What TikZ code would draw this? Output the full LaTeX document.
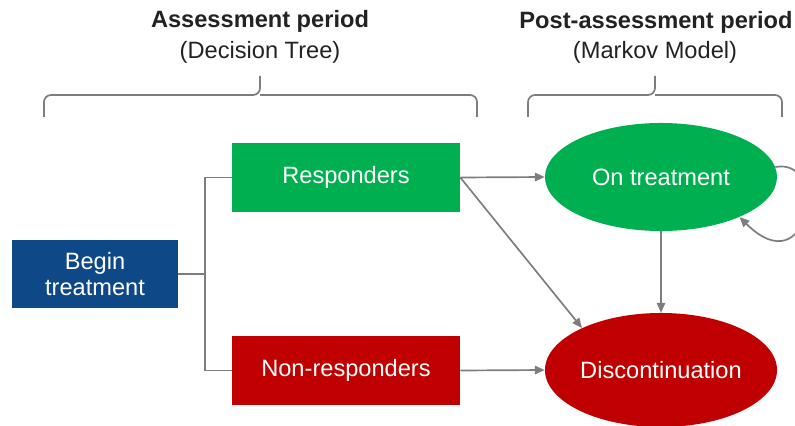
\documentclass[tikz,border=0pt]{standalone}
\usepackage{fontspec}
\setmainfont{Liberation Sans}
\usetikzlibrary{arrows.meta,positioning,shapes.geometric}
\definecolor{dtblue}{RGB}{14,72,134}
\definecolor{dtgreen}{RGB}{0,176,80}
\definecolor{dtred}{RGB}{192,0,0}
\definecolor{lngray}{RGB}{125,125,125}
\definecolor{txtgray}{RGB}{34,34,34}

\begin{document}
\begin{tikzpicture}[
  x=0.025cm,y=-0.025cm,
  font=\fontsize{16.8}{18}\selectfont,
  box/.style={draw=none,text=white,minimum height=1.72cm,minimum width=5.7cm,inner sep=2pt,align=center},
  state/.style={ellipse,draw=none,text=white,minimum width=5.8cm,inner sep=0pt},
  ar/.style={draw=lngray,line width=1.2pt,-{Triangle[length=7pt,width=6pt]}},
  ln/.style={draw=lngray,line width=1.2pt},
  brace/.style={draw=lngray,line width=1.2pt,rounded corners=5pt},
  ttl/.style={text=txtgray,anchor=base,inner sep=0pt}
]
\useasboundingbox (0,0) rectangle (795,426);

% headings
\node[ttl,font=\fontsize{16.8}{18}\selectfont\bfseries] (hdA) at (260,28) {Assessment period};
\node[ttl] (subA) at (260,59) {(Decision Tree)};
\node[ttl,font=\fontsize{16.8}{18}\selectfont\bfseries] (hdB) at (656,29) {Post-assessment period};
\node[ttl] (subB) at (655,59) {(Markov Model)};

% braces
\draw[brace] (44,117) -- (44,95) -- (260,95) -- (260,76);
\draw[brace] (477,117) -- (477,95) -- (260,95);
\draw[brace] (528,117) -- (528,95) -- (655,95) -- (655,76);
\draw[brace] (782,117) -- (782,95) -- (655,95);

% decision tree
\node[box,fill=dtblue,minimum width=4.15cm,minimum height=1.7cm] (begin) at (95,274) {Begin\\treatment};
\node[box,fill=dtgreen] (resp) at (346,177.5) {Responders};
\node[box,fill=dtred] (nonresp) at (346,370.5) {Non-responders};
\coordinate (split) at (205,274);
\draw[ln] (begin.east) -- (split);
\draw[ln] (resp.west) -| (split) |- (nonresp.west);

% markov states
\node[state,fill=dtgreen,minimum height=2.7cm] (on) at (661,177) {On treatment};
\node[state,fill=dtred,minimum height=2.85cm] (disc) at (661,370) {Discontinuation};

\draw[ar] (resp.east) -- (on.west);
\draw[ar] (resp.east) -- (disc.152);
\draw[ar] (nonresp.east) -- (disc.west);
\draw[ar] (on.south) -- (disc.north);
\draw[ar] (on.5) .. controls +(55,-10) and +(70,70) .. (on.-27);
\end{tikzpicture}
\end{document}
